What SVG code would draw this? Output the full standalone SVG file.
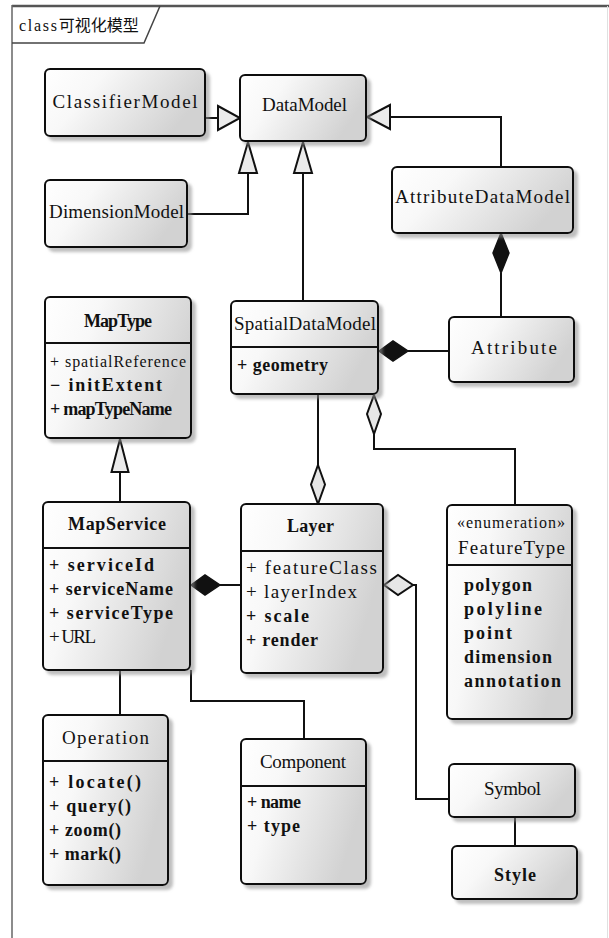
<svg xmlns="http://www.w3.org/2000/svg" width="609" height="938" viewBox="0 0 609 938">
<defs>
<linearGradient id="g" x1="0" y1="0" x2="1" y2="0.35">
<stop offset="0" stop-color="#ffffff"/>
<stop offset="0.35" stop-color="#f8f8f8"/>
<stop offset="1" stop-color="#d2d2d2"/>
</linearGradient>
<filter id="sh" x="-10%" y="-10%" width="130%" height="130%">
<feDropShadow dx="4" dy="4" stdDeviation="1.5" flood-color="#8a8a8a" flood-opacity="0.55"/>
</filter>
</defs>
<style>
.box{fill:url(#g);stroke:#111;stroke-width:2;filter:url(#sh)}
.sep{stroke:#111;stroke-width:2}
.t{font-family:"Liberation Serif","DejaVu Serif",serif;font-size:19px;fill:#111}
.s{font-size:16px}
.c{text-anchor:middle}
.b{font-weight:bold;font-size:18px}
.ln{fill:none;stroke:#111;stroke-width:2}
.tri{fill:#ebebeb;stroke:#111;stroke-width:2;stroke-linejoin:miter}
.dm{fill:#111;stroke:#111;stroke-width:1.5}
.od{fill:#e6e6e6;stroke:#111;stroke-width:2}
</style>
<rect width="609" height="938" fill="#ffffff"/>
<g id="frame">
<line x1="12" y1="6" x2="609" y2="6" stroke="#555" stroke-width="2.5"/>
<line x1="12" y1="5" x2="12" y2="938" stroke="#666" stroke-width="1.5"/>
<line x1="607.5" y1="6" x2="607.5" y2="938" stroke="#e0e0e0" stroke-width="1"/>
<polyline points="12,43 144,43 160,6" fill="none" stroke="#444" stroke-width="1.5"/>
<text x="19" y="31" font-family="'Liberation Serif','Noto Sans CJK SC',serif" fill="#111"><tspan font-size="16" textLength="38">class</tspan><tspan font-size="16" font-family="'Noto Sans CJK SC',sans-serif">可视化模型</tspan></text>
</g>
<g id="connectors">
<line class="ln" x1="205" y1="118" x2="218" y2="118"/>
<polygon class="tri" points="218,106 240,118 218,130"/>
<polyline class="ln" points="187,214 248,214 248,173"/>
<polygon class="tri" points="239,173 248,142 257,173"/>
<line class="ln" x1="303" y1="301" x2="303" y2="173"/>
<polygon class="tri" points="294,173 303,142 312,173"/>
<polyline class="ln" points="501,167 501,117 390,117"/>
<polygon class="tri" points="390,105 367,117 390,129"/>
<line class="ln" x1="501" y1="273" x2="501" y2="317"/>
<polygon class="dm" points="501,233 509,253 501,273 493,253"/>
<line class="ln" x1="408" y1="351" x2="449" y2="351"/>
<polygon class="dm" points="379,351 393,341 408,351 393,361"/>
<polygon class="od" points="374,395 381,414 374,434 367,414"/>
<polyline class="ln" points="374,434 374,449 515,449 515,505"/>
<line class="ln" x1="318" y1="394" x2="318" y2="465"/>
<polygon class="od" points="318,465 325,484.5 318,504 311,484.5"/>
<line class="ln" x1="120" y1="502" x2="120" y2="472"/>
<polygon class="tri" points="111.5,472 120,439 128.5,472"/>
<polygon class="dm" points="191,585 205,575 220,585 205,595"/>
<line class="ln" x1="220" y1="585" x2="241" y2="585"/>
<polygon class="od" points="384,585 398,575 413,585 398,595"/>
<polyline class="ln" points="413,585 416,585 416,799 449,799"/>
<line class="ln" x1="120" y1="670" x2="120" y2="715"/>
<polyline class="ln" points="191,670 191,701 304,701 304,739"/>
<line class="ln" x1="515" y1="817" x2="515" y2="846"/>
</g>
<g id="ClassifierModel">
<rect class="box" x="45" y="69" width="160" height="67" rx="5"/>
<text class="t c" x="125" y="108" textLength="145">ClassifierModel</text>
</g>
<g id="DataModel">
<rect class="box" x="240" y="75" width="126" height="66" rx="5"/>
<text class="t c" x="304.5" y="111" textLength="85">DataModel</text>
</g>
<g id="DimensionModel">
<rect class="box" x="45" y="180" width="142" height="67" rx="5"/>
<text class="t c" x="116.5" y="218" textLength="135">DimensionModel</text>
</g>
<g id="AttributeDataModel">
<rect class="box" x="392" y="167" width="181" height="66" rx="5"/>
<text class="t c" x="482.5" y="203" textLength="175">AttributeDataModel</text>
</g>
<g id="Attribute">
<rect class="box" x="449" y="317" width="125" height="65" rx="5"/>
<text class="t c" x="514" y="354" textLength="86">Attribute</text>
</g>
<g id="SpatialDataModel">
<rect class="box" x="231" y="301" width="147" height="93" rx="5"/>
<line class="sep" x1="231" y1="347" x2="378" y2="347"/>
<text class="t c" x="305" y="330" textLength="142">SpatialDataModel</text>
<text class="t b" x="237" y="371" textLength="91">+ geometry</text>
</g>
<g id="MapType">
<rect class="box" x="45" y="297" width="146" height="141" rx="5"/>
<line class="sep" x1="45" y1="343" x2="191" y2="343"/>
<text class="t c b" x="118" y="327" textLength="68">MapType</text>
<text class="t s" x="50" y="367" textLength="136">+ spatialReference</text>
<text class="t b" x="50" y="391" textLength="112">− initExtent</text>
<text class="t b" x="50" y="415" textLength="122">+ mapTypeName</text>
</g>
<g id="MapService">
<rect class="box" x="43" y="502" width="147" height="168" rx="5"/>
<line class="sep" x1="43" y1="548" x2="190" y2="548"/>
<text class="t c b" x="117" y="530" textLength="98">MapService</text>
<text class="t b" x="49" y="571" textLength="105">+ serviceId</text>
<text class="t b" x="49" y="595" textLength="124">+ serviceName</text>
<text class="t b" x="49" y="619" textLength="124">+ serviceType</text>
<text class="t" x="49" y="643" textLength="47">+ URL</text>
</g>
<g id="Layer">
<rect class="box" x="241" y="504" width="142" height="169" rx="5"/>
<line class="sep" x1="241" y1="551" x2="383" y2="551"/>
<text class="t c b" x="310.5" y="532" textLength="47">Layer</text>
<text class="t" x="246" y="574" textLength="131">+ featureClass</text>
<text class="t" x="246" y="598" textLength="111">+ layerIndex</text>
<text class="t b" x="246" y="622" textLength="63">+ scale</text>
<text class="t b" x="246" y="646" textLength="72">+ render</text>
</g>
<g id="FeatureType">
<rect class="box" x="447" y="505" width="125" height="214" rx="5"/>
<line class="sep" x1="447" y1="565" x2="572" y2="565"/>
<text class="t c s" x="511" y="528" textLength="108">«enumeration»</text>
<text class="t c" x="511.5" y="554" textLength="107">FeatureType</text>
<text class="t b" x="464" y="591" textLength="68">polygon</text>
<text class="t b" x="464" y="615" textLength="78">polyline</text>
<text class="t b" x="464" y="639" textLength="48">point</text>
<text class="t b" x="464" y="663" textLength="88">dimension</text>
<text class="t b" x="464" y="687" textLength="97">annotation</text>
</g>
<g id="Operation">
<rect class="box" x="43" y="715" width="125" height="170" rx="5"/>
<line class="sep" x1="43" y1="761" x2="168" y2="761"/>
<text class="t c" x="105.5" y="744" textLength="87">Operation</text>
<text class="t b" x="49" y="788" textLength="92">+ locate()</text>
<text class="t b" x="49" y="812" textLength="82">+ query()</text>
<text class="t b" x="49" y="836" textLength="72">+ zoom()</text>
<text class="t b" x="49" y="860" textLength="72">+ mark()</text>
</g>
<g id="Component">
<rect class="box" x="241" y="739" width="125" height="145" rx="5"/>
<line class="sep" x1="241" y1="786" x2="366" y2="786"/>
<text class="t c" x="303" y="768" textLength="86">Component</text>
<text class="t b" x="247" y="808" textLength="54">+ name</text>
<text class="t b" x="247" y="832" textLength="53">+ type</text>
</g>
<g id="Symbol">
<rect class="box" x="449" y="764" width="126" height="53" rx="5"/>
<text class="t c" x="512.5" y="795" textLength="57">Symbol</text>
</g>
<g id="Style">
<rect class="box" x="452" y="846" width="125" height="53" rx="5"/>
<text class="t c b" x="515" y="881" textLength="42">Style</text>
</g>
</svg>
